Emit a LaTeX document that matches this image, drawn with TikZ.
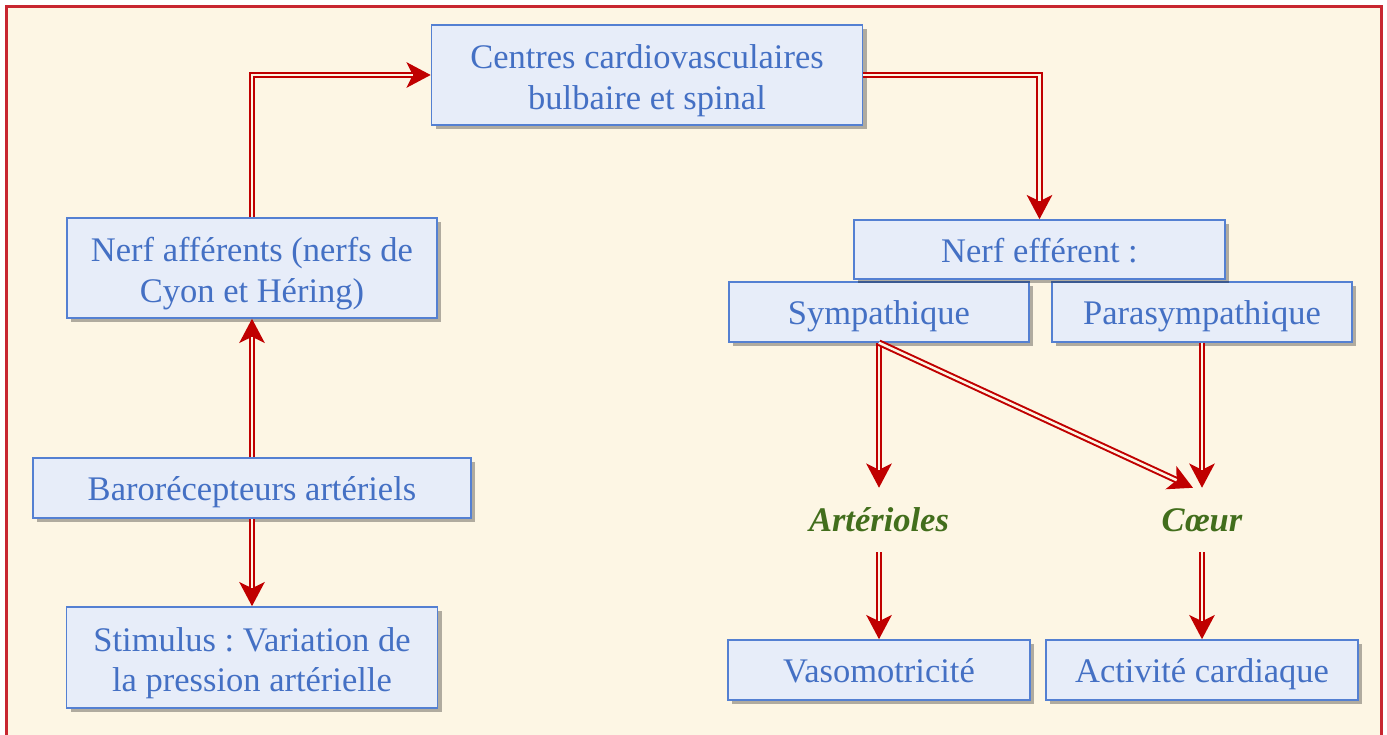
\documentclass[tikz,border=0pt]{standalone}
\usepackage{fontspec}
\setmainfont{Liberation Serif}
\frenchspacing
\usetikzlibrary{arrows.meta,shadows}
\definecolor{cream}{RGB}{253,246,228}
\definecolor{framered}{RGB}{200,38,48}
\definecolor{boxfill}{RGB}{231,237,249}
\definecolor{boxline}{RGB}{84,128,210}
\definecolor{textblue}{RGB}{68,112,196}
\definecolor{arrowred}{RGB}{192,0,0}
\definecolor{organgreen}{RGB}{66,110,28}
\newcommand{\firstline}{\rule{0pt}{35.5pt}}
\begin{document}
\begin{tikzpicture}[x=1pt,y=-1pt,
  box/.style={draw=boxline, line width=1.5pt, fill=boxfill, text=textblue,
    font=\fontsize{34.5}{40.5}\selectfont, align=center, inner sep=0pt,
    drop shadow={shadow xshift=4pt, shadow yshift=-4pt, fill=black, opacity=0.3}},
  oneline/.style={box, text height=33.5pt, text depth=8pt},
  organ/.style={text=organgreen, font=\fontsize{34.5}{40.5}\selectfont\bfseries\itshape,
    minimum height=64pt, inner sep=0pt},
  % double red connector: thick red stroke with a cream core
  link/.style={draw=arrowred, line width=6.5pt,
    -{Stealth[length=24pt,width=25pt,inset=6pt]},
    postaction={draw=cream, line width=2.5pt, arrows=-, shorten >=18pt}}
]
% page and frame
\fill[white] (0,0) rectangle (1387,735);
\useasboundingbox (0,0) rectangle (1387,735);
\draw[framered, line width=3pt, fill=cream] (6,7) rectangle (1381,780);

% left column
\node[box, minimum width=431pt, minimum height=100pt] (centres) at (647,75)
  {\firstline Centres cardiovasculaires\\bulbaire et spinal};
\node[box, minimum width=370pt, minimum height=100pt] (aff) at (252,268)
  {\firstline Nerf afférents (nerfs de\\Cyon et Héring)};
\node[oneline, minimum width=438pt, minimum height=60pt] (baro) at (252,488)
  {Barorécepteurs artériels};
\node[box, minimum width=371pt, minimum height=101pt] (stim) at (252,657.5)
  {\firstline Stimulus : Variation de\\la pression artérielle};

% right column
\node[oneline, minimum width=300pt, minimum height=60pt] (symp) at (879,312) {Sympathique};
\node[oneline, minimum width=300pt, minimum height=60pt] (para) at (1202,312) {Parasympathique};
\node[oneline, minimum width=371pt, minimum height=59pt] (eff) at (1039.5,249.5) {Nerf efférent :};
\node[organ] (art) at (879,520) {Artérioles};
\node[organ] (coeur) at (1202,520) {Cœur};
\node[oneline, minimum width=302pt, minimum height=60pt] (vaso) at (879,670) {Vasomotricité};
\node[oneline, minimum width=312pt, minimum height=60pt] (card) at (1202,670) {Activité cardiaque};

% connectors
\draw[link] (aff.north) |- (centres.west);
\draw[link] (centres.east) -| (eff.north);
\draw[link] (baro.north) -- (aff.south);
\draw[link] (baro.south) -- (stim.north);
\draw[link] (symp.south) -- (art.north);
\draw[link] (symp.south) -- ([xshift=-9pt]coeur.north);
\draw[link] (para.south) -- (coeur.north);
\draw[link] (art.south) -- (vaso.north);
\draw[link] (coeur.south) -- (card.north);
\end{tikzpicture}
\end{document}
